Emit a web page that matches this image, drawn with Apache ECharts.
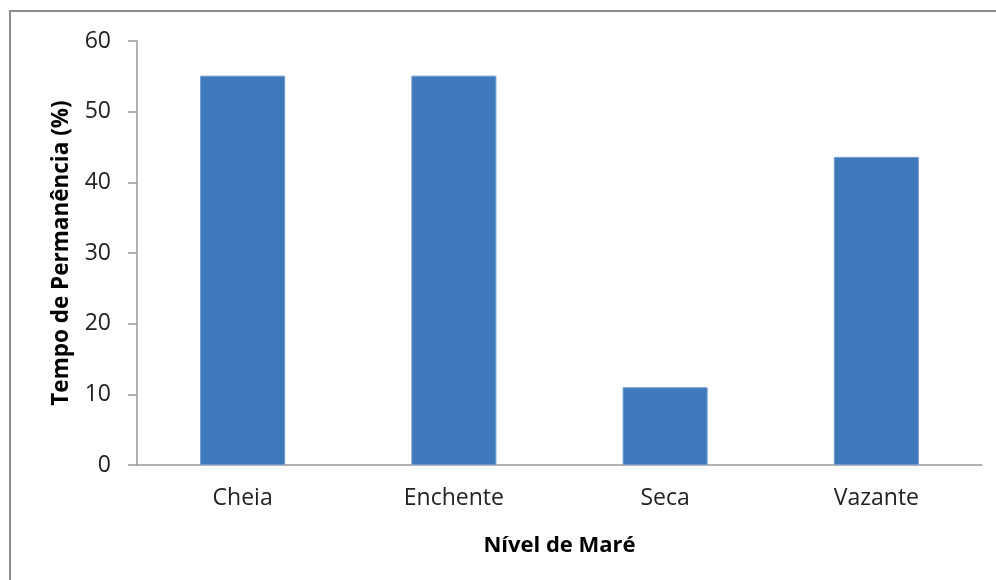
<!DOCTYPE html>
<html>
<head>
<meta charset="utf-8">
<script src="https://cdn.jsdelivr.net/npm/echarts@6/dist/echarts.min.js"></script>
<style>
  html, body { margin: 0; padding: 0; background: #fff; }
</style>
</head>
<body>
<div id="chart" style="width: 996px; height: 580px;"></div>
<script>
  const categories = ['Cheia', 'Enchente', 'Seca', 'Vazante'];
  const values = [55.1, 55.1, 11.0, 43.6];
  const yTicks = { min: 0, max: 60, interval: 10 };

  let chart = echarts.init(document.getElementById('chart'));

  let option = {
    animation: false,
    textStyle: { fontFamily: 'Open Sans' },
    graphic: [{
      type: 'rect',
      shape: { x: 10, y: 11, width: 1000, height: 600 },
      style: { fill: 'none', stroke: '#8c8c8c', lineWidth: 2 },
      silent: true
    }],
    grid: { left: 137, top: 41, right: 14, bottom: 115 },
    xAxis: {
      type: 'category',
      data: categories,
      name: 'Nível de Maré',
      nameLocation: 'middle',
      nameGap: 70,
      nameTextStyle: { fontSize: 22, fontWeight: 'bold', color: '#000' },
      axisLine: { lineStyle: { color: '#999', width: 1.5 } },
      axisTick: { length: 8, lineStyle: { color: '#999', width: 1.5 } },
      axisLabel: { fontSize: 23, color: '#222', margin: 22 }
    },
    yAxis: {
      type: 'value',
      min: yTicks.min,
      max: yTicks.max,
      interval: yTicks.interval,
      name: 'Tempo de Permanência (%)',
      nameLocation: 'middle',
      nameGap: 64,
      nameTextStyle: { fontSize: 22.5, fontWeight: 'bold', color: '#000' },
      axisLine: { show: true, lineStyle: { color: '#999', width: 1.5 } },
      axisTick: { show: true, length: 9, lineStyle: { color: '#999', width: 1.5 } },
      splitLine: { show: false },
      axisLabel: { fontSize: 23, color: '#222', margin: 26 }
    },
    series: [{
      type: 'bar',
      data: values,
      barWidth: 85,
      itemStyle: { color: '#4079bb', borderColor: '#6d9bd0', borderWidth: 1 }
    }]
  };

  chart.setOption(option);
</script>
</body>
</html>
